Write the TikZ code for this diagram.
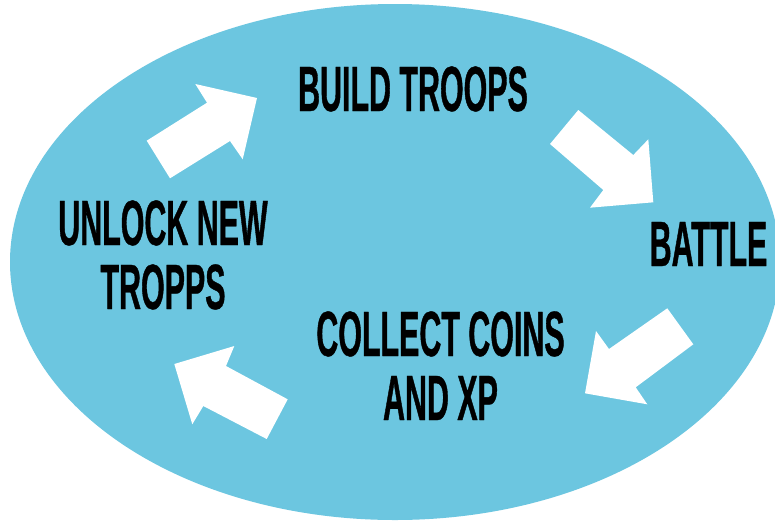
\documentclass[tikz,border=0pt]{standalone}
\usepackage{fontspec}
\newfontfamily\bebas[FakeStretch=0.475,FakeBold=0.6]{Liberation Sans Bold}
\definecolor{skyfill}{RGB}{108,198,224}
\begin{document}
\begin{tikzpicture}[x=1pt,y=-1pt,
  lbl/.style={font=\bebas\fontsize{64}{65}\selectfont, text=black, align=center, inner sep=0pt},
  blockarrow/.style={fill=white, draw=none}]
\useasboundingbox (0,0) rectangle (775,520);
\clip (0,0) rectangle (775,520);
\fill[white] (0,0) rectangle (775,520);
\fill[skyfill] (395,262) ellipse [x radius=385, y radius=258];
% labels
\node[lbl, anchor=base] (build) at (413,111) {BUILD TROOPS};
\node[lbl, anchor=base] (battle) at (708.5,266) {BATTLE};
\node[lbl, anchor=base] (collect) at (440.5,356) {COLLECT COINS};
\node[lbl, anchor=base] (xp) at (440.5,420) {AND XP};
\node[lbl, anchor=base] (unlock) at (163,245) {UNLOCK NEW};
\node[lbl, anchor=base] (tropps) at (163,309) {TROPPS};
% block arrows
\fill[blockarrow] (146.7,140.7) -- (207,102.7) -- (195.3,84) -- (257,98) -- (242.7,159.3) -- (230,141) -- (170,178.3) -- cycle;
\fill[blockarrow] (578.3,110) -- (633.3,155) -- (648.3,139.3) -- (653.3,202.3) -- (590,207.7) -- (603.3,190) -- (550,144) -- cycle;
\fill[blockarrow] (667.3,308.3) -- (693.3,344.3) -- (635.7,387.3) -- (647.3,404.3) -- (585,393.3) -- (596,331) -- (609,349) -- cycle;
\fill[blockarrow] (287.7,399.3) -- (226,366) -- (234.3,346) -- (174.3,364) -- (192.3,424.3) -- (203.3,406) -- (266.7,439) -- cycle;
\end{tikzpicture}
\end{document}
